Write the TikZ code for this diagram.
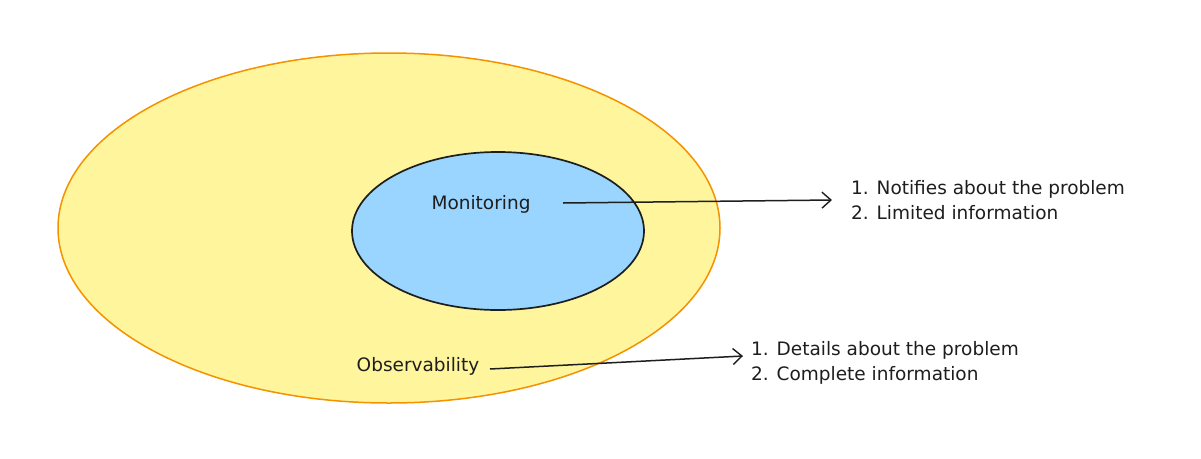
\documentclass[tikz,border=0pt]{standalone}
\usepackage{fontspec}
\setmainfont{DejaVu Sans}
\usetikzlibrary{arrows.meta,shapes.geometric}
\definecolor{outerfill}{HTML}{FFF59D}
\definecolor{outerline}{HTML}{F59200}
\definecolor{innerfill}{HTML}{99D5FF}
\definecolor{ink}{HTML}{1E1E1E}
\tikzset{
  lbl/.style={font=\fontsize{18.5}{22}\selectfont, text=ink, inner sep=0pt},
  listlbl/.style={lbl, align=left, anchor=west, font=\fontsize{18.5}{25.5}\selectfont},
  conn/.style={draw=ink, line width=1.5pt, -{Straight Barb[length=9pt,width=16pt,line width=1.4pt]}},
}
\begin{document}
\begin{tikzpicture}[x=1pt,y=-1pt]
\useasboundingbox (0,0) rectangle (1201,458);
\fill[white] (0,0) rectangle (1201,458);
\draw[draw=outerline, fill=outerfill, line width=1.5pt] (389,228) ellipse [x radius=331, y radius=175];
\draw[draw=ink, fill=innerfill, line width=1.7pt] (498,231) ellipse [x radius=146, y radius=79];
\node[lbl] (mon) at (481,204) {Monitoring};
\node[lbl] (obs) at (418,366) {Observability};
\node[listlbl] (ml) at (851,200) {1. Notifies about the problem\\2. Limited information};
\node[listlbl] (ol) at (751,363) {1. Details about the problem\\2. Complete information};
\coordinate (ms) at (563,203);
\coordinate (os) at (490,369);
\draw[conn] (ms) -- (ml.west -| 832,0) ;
\draw[conn] (os) -- (743,356);
\end{tikzpicture}
\end{document}
